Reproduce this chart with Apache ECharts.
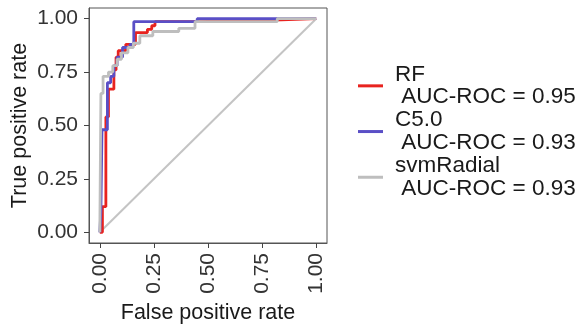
<!DOCTYPE html>
<html>
<head>
<meta charset="utf-8">
<script src="https://cdn.jsdelivr.net/npm/echarts@6/dist/echarts.min.js"></script>
<style>html,body{margin:0;padding:0;background:#fff}#c{width:581px;height:328px}</style>
</head>
<body>
<div id="c"></div>
<script>
var tickValues = [0, 0.25, 0.5, 0.75, 1];
var seriesNames = ['RF\n AUC-ROC = 0.95', 'C5.0\n AUC-ROC = 0.93', 'svmRadial\n AUC-ROC = 0.93'];

var rfFpr = [0, 0.012, 0.012, 0.028, 0.028, 0.04, 0.04, 0.065, 0.065, 0.075, 0.075, 0.085, 0.085, 0.12, 0.12, 0.165, 0.165, 0.22, 0.22, 0.24, 0.24, 0.255, 0.255, 0.45, 0.45, 0.84, 0.84, 1];
var rfTpr = [0, 0, 0.12, 0.12, 0.54, 0.54, 0.67, 0.67, 0.76, 0.76, 0.82, 0.82, 0.85, 0.85, 0.88, 0.88, 0.935, 0.935, 0.95, 0.95, 0.967, 0.967, 0.986, 0.986, 0.995, 0.995, 1, 1];

var c50Fpr = [0, 0.005, 0.005, 0.01, 0.01, 0.035, 0.035, 0.05, 0.05, 0.065, 0.065, 0.08, 0.08, 0.105, 0.105, 0.14, 0.14, 0.157, 0.157, 0.45, 0.45, 1];
var c50Tpr = [0, 0, 0.1, 0.1, 0.48, 0.48, 0.70, 0.70, 0.73, 0.73, 0.78, 0.78, 0.82, 0.82, 0.865, 0.865, 0.88, 0.88, 0.986, 0.986, 1, 1];

var svmFpr = [0, 0.005, 0.005, 0.015, 0.015, 0.04, 0.04, 0.06, 0.06, 0.08, 0.08, 0.1, 0.1, 0.13, 0.13, 0.155, 0.155, 0.185, 0.185, 0.245, 0.245, 0.365, 0.365, 0.44, 0.44, 0.82, 0.82, 1];
var svmTpr = [0, 0, 0.65, 0.65, 0.73, 0.73, 0.75, 0.75, 0.78, 0.78, 0.81, 0.81, 0.84, 0.84, 0.865, 0.865, 0.885, 0.885, 0.92, 0.92, 0.94, 0.94, 0.955, 0.955, 0.986, 0.986, 1, 1];

var diagX = [0, 1];
var diagY = [0, 1];

function pairs(xs, ys) { return xs.map(function (x, i) { return [x, ys[i]]; }); }

var colors = ['#E8231F', '#5A4FC6', '#BEBEBE'];
var chart = echarts.init(document.getElementById('c'), null, {renderer: 'canvas'});
var fam = 'Liberation Sans, Arial, sans-serif';
var fmt = function (v) { return Number(v).toFixed(2); };

chart.setOption({
  animation: false,
  backgroundColor: '#ffffff',
  textStyle: {fontFamily: fam},
  grid: {left: 89, top: 8, right: 254, bottom: 85, show: true, borderColor: '#555', borderWidth: 1, backgroundColor: '#fff', containLabel: false, outerBoundsMode: 'none'},
  legend: {
    data: seriesNames,
    orient: 'vertical',
    left: 358, top: 63,
    padding: 0,
    itemGap: 0,
    itemWidth: 25, itemHeight: 3,
    icon: 'rect',
    selectedMode: false,
    textStyle: {fontSize: 22.5, lineHeight: 22.7, color: '#1a1a1a', fontFamily: fam, padding: [0, 0, 0, 7]}
  },
  xAxis: {
    type: 'value', min: -0.05, max: 1.05,
    splitLine: {show: false},
    axisLine: {show: true, onZero: false, lineStyle: {color: '#555', width: 1}},
    axisTick: {show: true, customValues: tickValues, length: 5, lineStyle: {color: '#444', width: 1}},
    axisLabel: {customValues: tickValues, formatter: fmt, rotate: 90, fontSize: 21, color: '#333', margin: 10, fontFamily: fam},
    name: 'False positive rate', nameLocation: 'middle', nameGap: 59,
    nameTextStyle: {fontSize: 21.5, color: '#1a1a1a', fontFamily: fam}
  },
  yAxis: {
    type: 'value', min: -0.05, max: 1.05,
    splitLine: {show: false},
    axisLine: {show: true, onZero: false, lineStyle: {color: '#555', width: 1}},
    axisTick: {show: true, customValues: tickValues, length: 5, lineStyle: {color: '#444', width: 1}},
    axisLabel: {customValues: tickValues, formatter: fmt, fontSize: 21, color: '#333', margin: 11, fontFamily: fam},
    name: 'True positive rate', nameLocation: 'middle', nameGap: 58,
    nameTextStyle: {fontSize: 21.5, color: '#1a1a1a', fontFamily: fam}
  },
  series: [
    {type: 'line', name: 'diag', data: pairs(diagX, diagY), showSymbol: false, silent: true, z: 1,
     lineStyle: {color: '#C4C4C4', width: 2}},
    {type: 'line', name: seriesNames[0], data: pairs(rfFpr, rfTpr), showSymbol: false, silent: true, z: 2,
     color: colors[0], lineStyle: {color: colors[0], width: 2.8}},
    {type: 'line', name: seriesNames[1], data: pairs(c50Fpr, c50Tpr), showSymbol: false, silent: true, z: 3,
     color: colors[1], lineStyle: {color: colors[1], width: 2.8}},
    {type: 'line', name: seriesNames[2], data: pairs(svmFpr, svmTpr), showSymbol: false, silent: true, z: 4,
     color: colors[2], lineStyle: {color: colors[2], width: 2.8}}
  ]
});
</script>
</body>
</html>
